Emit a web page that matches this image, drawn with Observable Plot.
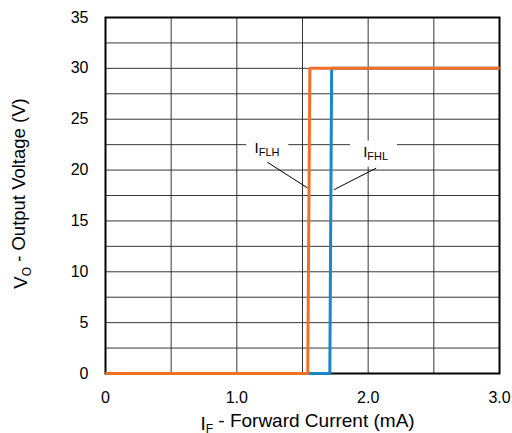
<!DOCTYPE html>
<html>
<head>
<meta charset="utf-8">
<script src="https://cdn.jsdelivr.net/npm/d3@7"></script>
<script src="https://cdn.jsdelivr.net/npm/@observablehq/plot@0.6"></script>
<style>
  html, body { margin: 0; padding: 0; background: #fff; }
  svg { display: block; font-family: "Liberation Sans", Arial, sans-serif; }
</style>
</head>
<body>
<div id="chart"></div>
<script>
// Data
const xTicks = [0, 1, 2, 3];
const xTickLabels = ["0", "1.0", "2.0", "3.0"];
const yTicks = [0, 5, 10, 15, 20, 25, 30, 35];
const xGrid = [0.5, 1, 1.5, 2, 2.5];
const yGrid = [2.5, 5, 7.5, 10, 12.5, 15, 17.5, 20, 22.5, 25, 27.5, 30, 32.5];

// I_FHL (blue)
const fhlX = [0, 1.708, 1.722, 3.0];
const fhlY = [0, 0, 30, 30];
// I_FLH (orange)
const flhX = [0, 1.54, 1.556, 3.0];
const flhY = [0, 0, 30, 30];

// annotation labels
const labelNames = ["FLH", "FHL"];
const labelX = [1.135, 1.962];
const labelY = [21.7, 21.3];
const leaderX1 = [1.232, 2.061];
const leaderY1 = [20.78, 20.19];
const leaderX2 = [1.541, 1.738];
const leaderY2 = [18.22, 18.06];
const boxX1 = [1.075, 1.865];
const boxX2 = [1.395, 2.223];
const boxY1 = [20.6, 20.28];
const boxY2 = [22.85, 22.85];

const fhl = fhlX.map((x, i) => ({x, y: fhlY[i]}));
const flh = flhX.map((x, i) => ({x, y: flhY[i]}));
const labels = labelNames.map((n, i) => ({
  n, x: labelX[i], y: labelY[i],
  x1: leaderX1[i], y1: leaderY1[i], x2: leaderX2[i], y2: leaderY2[i],
  bx1: boxX1[i], bx2: boxX2[i], by1: boxY1[i], by2: boxY2[i]
}));

const ORANGE = "#F26F26";
const BLUE = "#1C86C9";

const chart = Plot.plot({
  width: 512,
  height: 433,
  marginLeft: 105,
  marginRight: 13,
  marginTop: 17,
  marginBottom: 60,
  style: { fontFamily: "Liberation Sans, Arial, sans-serif", fontSize: "16px", color: "#000", background: "#fff" },
  x: { domain: [0, 3], label: null },
  y: { domain: [0, 35], label: null },
  marks: [
    Plot.gridX(xGrid, { stroke: "#222", strokeOpacity: 0.9, strokeWidth: 1 }),
    Plot.gridY(yGrid, { stroke: "#222", strokeOpacity: 0.9, strokeWidth: 1 }),
    Plot.rect(labels, { x1: "bx1", x2: "bx2", y1: "by1", y2: "by2", fill: "white" }),
    Plot.link(labels, { x1: "x1", y1: "y1", x2: "x2", y2: "y2", stroke: "#000", strokeWidth: 1 }),
    Plot.text(labels, { x: "x", y: "y", text: d => "I|" + d.n, textAnchor: "start", lineAnchor: "bottom", fontSize: 15, fill: "#000", className: "sublabel" }),
    Plot.frame({ stroke: "#000", strokeWidth: 2 }),
    Plot.line(fhl, { x: "x", y: "y", stroke: BLUE, strokeWidth: 3, strokeLinejoin: "miter", strokeLinecap: "butt" }),
    Plot.line(flh, { x: "x", y: "y", stroke: ORANGE, strokeWidth: 3, strokeLinejoin: "miter", strokeLinecap: "butt" }),
    Plot.axisX(xTicks, { tickSize: 0, tickPadding: 18.5, tickFormat: (d, i) => xTickLabels[i], fontSize: 16, label: null }),
    Plot.axisY(yTicks, { tickSize: 0, tickPadding: 17, fontSize: 16, label: null }),
    Plot.text(["I|F| - Forward Current (mA)"], { frameAnchor: "bottom", textAnchor: "middle", dx: 5, dy: 56, lineAnchor: "bottom", fontSize: 19, fill: "#000", className: "axlabel" }),
    Plot.text(["V|O| - Output Voltage (V)"], { frameAnchor: "left", textAnchor: "middle", dx: -84, dy: -2, rotate: -90, fontSize: 18.5, fill: "#000", className: "axlabel" })
  ]
});

// Convert "A|sub|rest" into tspans with subscripts; baseline placed at the anchor
function subify(sel, subSize) {
  d3.select(chart).selectAll(sel + " text").each(function () {
    const t = d3.select(this);
    const parts = t.text().split("|");
    t.attr("dy", "0");
    t.text(null);
    t.append("tspan").text(parts[0]);
    if (parts.length > 1) {
      t.append("tspan").attr("font-size", subSize).attr("dy", "0.3em").text(parts[1]);
    }
    if (parts.length > 2) {
      t.append("tspan").attr("dy", "-0.3em").text(parts[2]);
    }
  });
}
subify(".sublabel", 11);
subify(".axlabel", 12);

document.getElementById("chart").appendChild(chart);
</script>
</body>
</html>
